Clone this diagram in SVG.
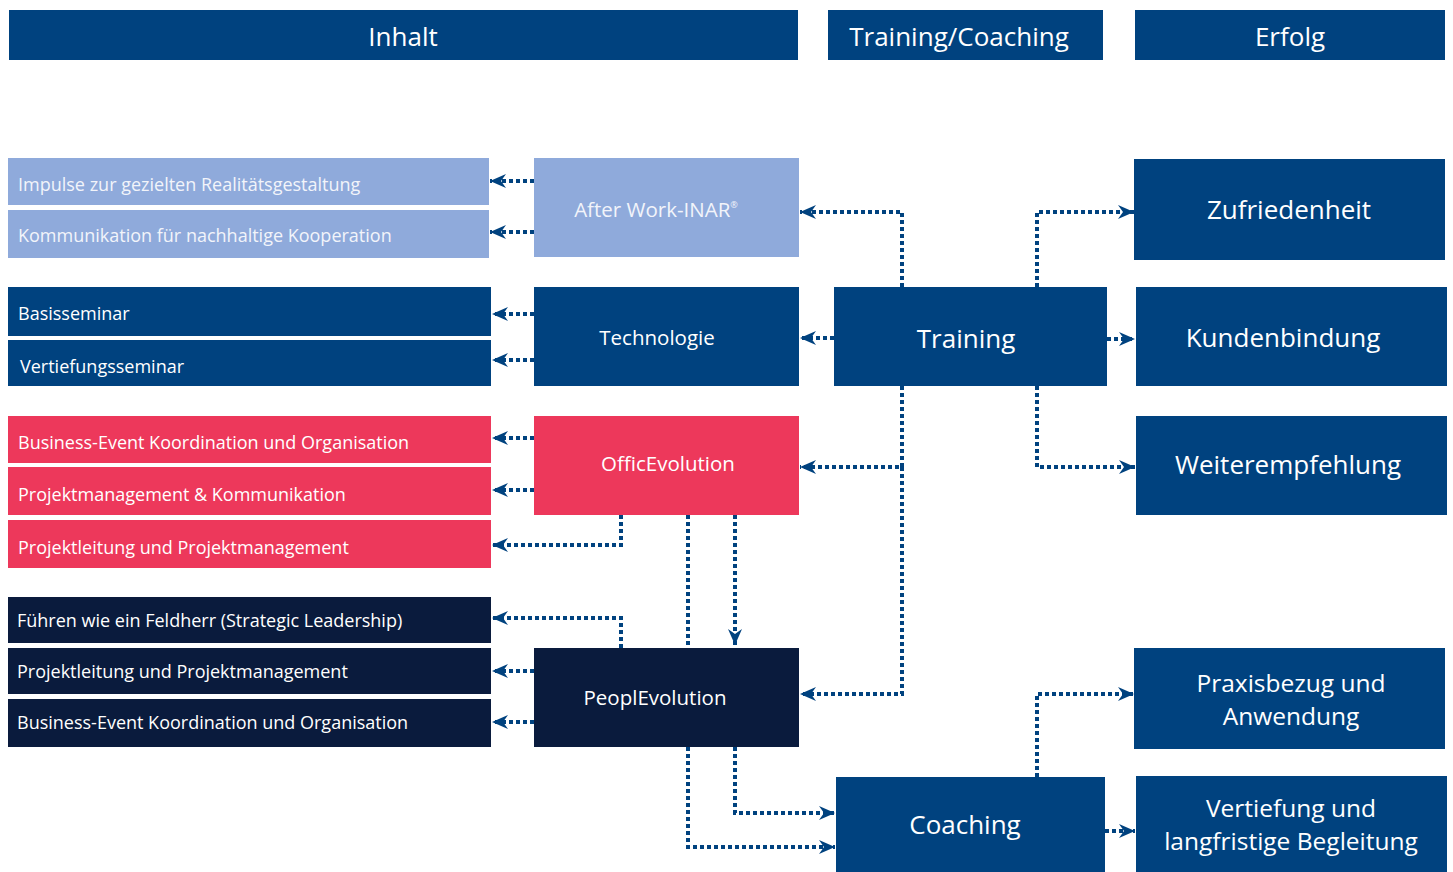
<svg xmlns="http://www.w3.org/2000/svg" width="1453" height="872" viewBox="0 0 1453 872">
<style>
.blue{fill:#00427F}
.light{fill:#8FAADB}
.red{fill:#ED385B}
.navy{fill:#0A1B3D}
text{font-family:"Open Sans","Liberation Sans",sans-serif;fill:#FFFFFF}
.hd{font-size:26px;text-anchor:middle}
.lb{font-size:18px}
.md{font-size:20.5px;text-anchor:middle}
.bg{font-size:26px;text-anchor:middle}
.two{font-size:24.5px;text-anchor:middle}
.lt{fill:#F2F4FA}
.con{fill:none;stroke:#00427F;stroke-width:4;stroke-dasharray:4 3}
</style>
<defs>
<marker id="arr" viewBox="-17 -8 18 16" refX="0" refY="0" markerWidth="18" markerHeight="16" markerUnits="userSpaceOnUse" orient="auto">
<path d="M0,0 L-16,-7 L-11,0 L-16,7 Z" fill="#00427F"/>
</marker>
</defs>
<rect width="1453" height="872" fill="#FFFFFF"/>

<g id="header-inhalt"><rect class="blue" x="9" y="10" width="789" height="50"/><text class="hd" x="403" y="46">Inhalt</text></g>
<g id="header-training"><rect class="blue" x="828" y="10" width="275" height="50"/><text class="hd" x="959" y="46">Training/Coaching</text></g>
<g id="header-erfolg"><rect class="blue" x="1135" y="10" width="310" height="50"/><text class="hd" x="1290" y="46">Erfolg</text></g>

<g id="impulse"><rect class="light" x="8" y="158" width="481" height="47"/><text class="lb lt" x="18" y="191">Impulse zur gezielten Realitätsgestaltung</text></g>
<g id="kommunikation"><rect class="light" x="8" y="210" width="481" height="48"/><text class="lb lt" x="18" y="242">Kommunikation für nachhaltige Kooperation</text></g>
<g id="afterwork"><rect class="light" x="534" y="158" width="265" height="99"/><text class="md lt" x="656" y="217">After Work-INAR<tspan font-size="9" dy="-9">®</tspan></text></g>

<g id="basisseminar"><rect class="blue" x="8" y="287" width="483" height="49"/><text class="lb" x="18" y="320">Basisseminar</text></g>
<g id="vertiefungsseminar"><rect class="blue" x="8" y="340" width="483" height="46"/><text class="lb" x="20" y="373">Vertiefungsseminar</text></g>
<g id="technologie"><rect class="blue" x="534" y="287" width="265" height="99"/><text class="md" x="657" y="345">Technologie</text></g>

<g id="training"><rect class="blue" x="834" y="287" width="273" height="99"/><text class="bg" x="966" y="348">Training</text></g>

<g id="business-event-1"><rect class="red" x="8" y="416" width="483" height="47"/><text class="lb" x="18" y="449">Business-Event Koordination und Organisation</text></g>
<g id="projektmanagement-kommunikation"><rect class="red" x="8" y="467" width="483" height="48"/><text class="lb" x="18" y="501">Projektmanagement &amp; Kommunikation</text></g>
<g id="projektleitung-1"><rect class="red" x="8" y="520" width="483" height="48"/><text class="lb" x="18" y="554">Projektleitung und Projektmanagement</text></g>
<g id="officevolution"><rect class="red" x="534" y="416" width="265" height="99"/><text class="md" x="668" y="471">OfficEvolution</text></g>

<g id="fuehren"><rect class="navy" x="8" y="597" width="483" height="46"/><text class="lb" x="17" y="627">Führen wie ein Feldherr (Strategic Leadership)</text></g>
<g id="projektleitung-2"><rect class="navy" x="8" y="648" width="483" height="46"/><text class="lb" x="17" y="678">Projektleitung und Projektmanagement</text></g>
<g id="business-event-2"><rect class="navy" x="8" y="699" width="483" height="48"/><text class="lb" x="17" y="729">Business-Event Koordination und Organisation</text></g>
<g id="peoplevolution"><rect class="navy" x="534" y="648" width="265" height="99"/><text class="md" x="655" y="705">PeoplEvolution</text></g>

<g id="coaching"><rect class="blue" x="836" y="777" width="269" height="95"/><text class="bg" x="965" y="834">Coaching</text></g>

<g id="zufriedenheit"><rect class="blue" x="1134" y="159" width="311" height="101"/><text class="bg" x="1289" y="219">Zufriedenheit</text></g>
<g id="kundenbindung"><rect class="blue" x="1136" y="287" width="311" height="99"/><text class="bg" x="1283" y="347">Kundenbindung</text></g>
<g id="weiterempfehlung"><rect class="blue" x="1136" y="416" width="311" height="99"/><text class="bg" x="1288" y="474">Weiterempfehlung</text></g>
<g id="praxisbezug"><rect class="blue" x="1134" y="648" width="311" height="101"/><text class="two" x="1291" y="692">Praxisbezug und</text><text class="two" x="1291" y="725">Anwendung</text></g>
<g id="vertiefung"><rect class="blue" x="1136" y="776" width="311" height="96"/><text class="two" x="1291" y="817">Vertiefung und</text><text class="two" x="1291" y="850">langfristige Begleitung</text></g>

<g id="connectors">
<path class="con" marker-end="url(#arr)" d="M534,181 H490"/>
<path class="con" marker-end="url(#arr)" d="M534,232 H490"/>
<path class="con" marker-end="url(#arr)" d="M902,287 V212 H800"/>
<path class="con" marker-end="url(#arr)" d="M534,314 H492"/>
<path class="con" marker-end="url(#arr)" d="M534,360 H492"/>
<path class="con" marker-end="url(#arr)" d="M834,338 H800"/>
<path class="con" marker-end="url(#arr)" d="M534,438 H492"/>
<path class="con" marker-end="url(#arr)" d="M534,490 H492"/>
<path class="con" marker-end="url(#arr)" d="M621,515 V545 H492"/>
<path class="con" marker-end="url(#arr)" d="M902,386 V467 H800"/>
<path class="con" marker-end="url(#arr)" d="M902,467 V694 H800"/>
<path class="con" d="M688,515 V648"/>
<path class="con" marker-end="url(#arr)" d="M735,515 V645"/>
<path class="con" marker-end="url(#arr)" d="M621,648 V618 H492"/>
<path class="con" marker-end="url(#arr)" d="M534,671 H492"/>
<path class="con" marker-end="url(#arr)" d="M534,722 H492"/>
<path class="con" marker-end="url(#arr)" d="M688,747 V847 H835"/>
<path class="con" marker-end="url(#arr)" d="M735,747 V813 H835"/>
<path class="con" marker-end="url(#arr)" d="M1037,287 V212 H1134"/>
<path class="con" marker-end="url(#arr)" d="M1107,339 H1135"/>
<path class="con" marker-end="url(#arr)" d="M1037,386 V467 H1135"/>
<path class="con" marker-end="url(#arr)" d="M1037,777 V694 H1134"/>
<path class="con" marker-end="url(#arr)" d="M1105,831 H1135"/>
</g>
</svg>
